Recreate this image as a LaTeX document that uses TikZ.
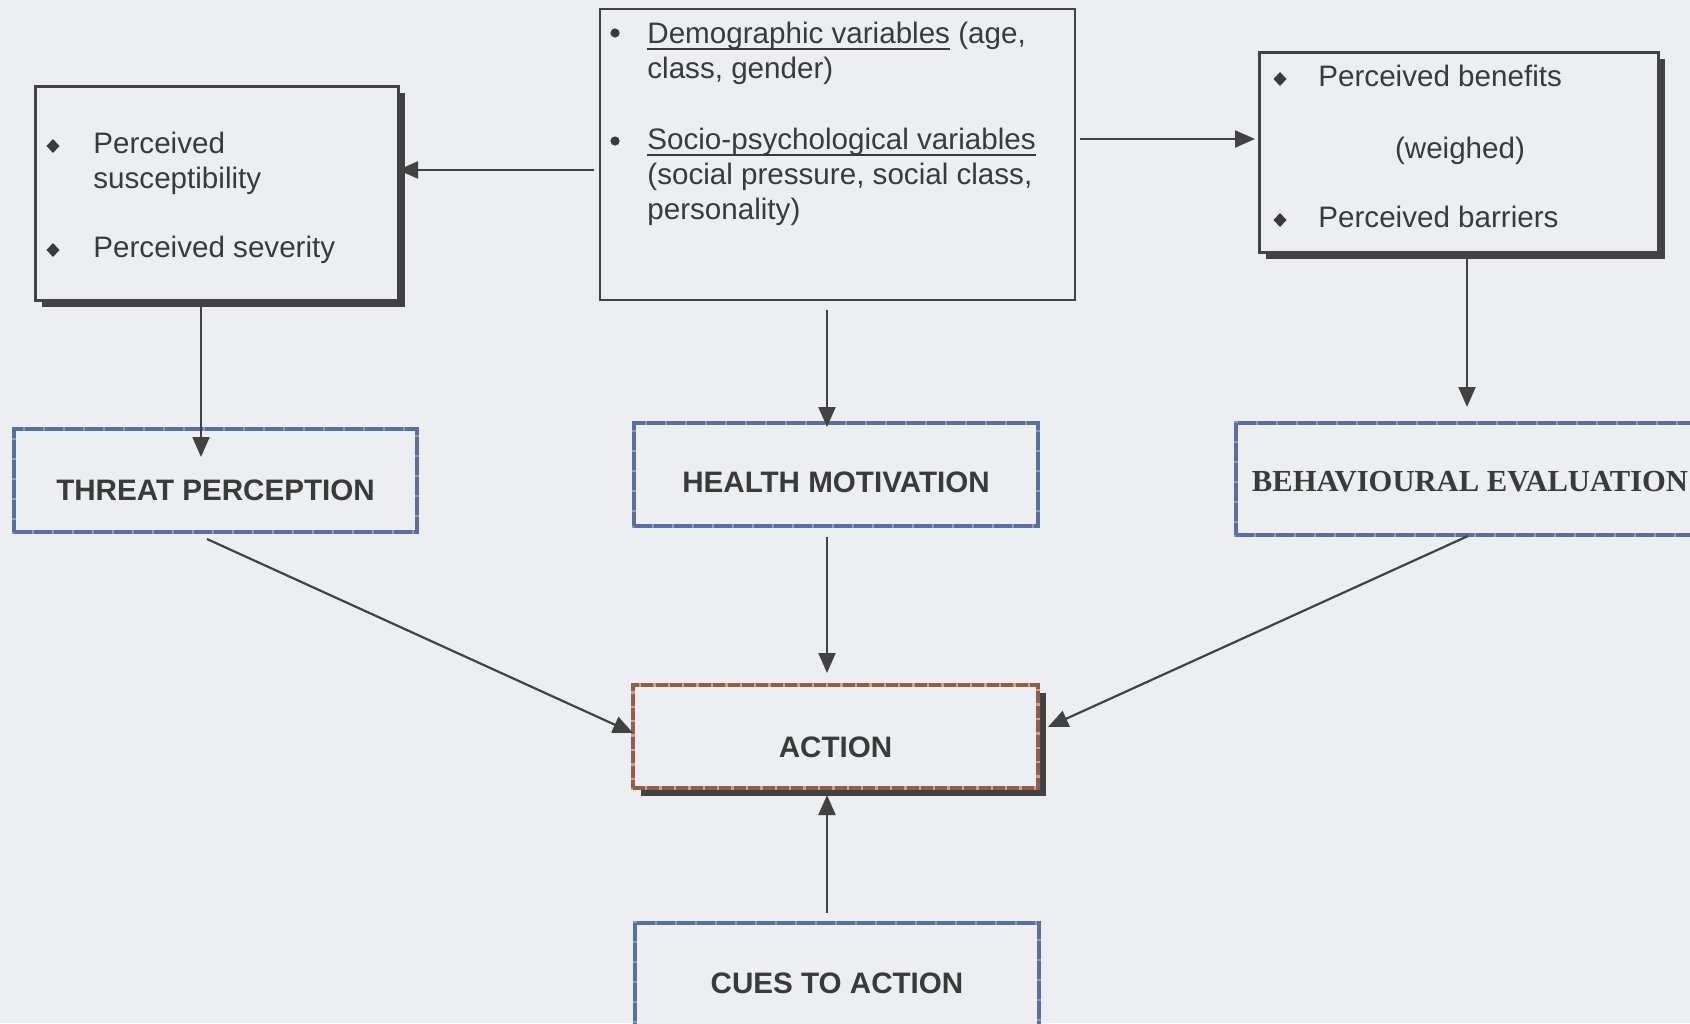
\documentclass[tikz,border=0pt]{standalone}
\usepackage{fontspec}
\setmainfont{Liberation Sans}
\newfontfamily\timesbf{Liberation Serif}
\usetikzlibrary{arrows.meta,shadows}

\newlength{\ulwd}
\newcommand{\uln}[1]{\settowidth{\ulwd}{#1}\rlap{\rule[-3.4pt]{\ulwd}{0.9pt}}#1}

\definecolor{bg}{RGB}{237,238,242}
\definecolor{ink}{RGB}{58,58,58}
\definecolor{frame}{RGB}{66,66,66}
\definecolor{blueframe}{RGB}{92,110,158}
\definecolor{paleblue}{RGB}{140,154,192}
\definecolor{brownframe}{RGB}{146,92,80}
\definecolor{sandframe}{RGB}{200,168,120}

\tikzset{
  basebox/.style={inner sep=0pt, outer sep=0pt, fill=bg},
  factorbox/.style={basebox, draw=frame, line width=1.5pt,
    drop shadow={shadow xshift=3.5pt, shadow yshift=-3.5pt, fill=frame, opacity=1}},
  varbox/.style={basebox, draw=frame, line width=1pt},
  stagebox/.style={basebox, draw=paleblue, line width=1.6pt,
    postaction={draw=blueframe, line width=1.6pt, dash pattern=on 9pt off 1pt}},
  actbox/.style={basebox, draw=sandframe, line width=1.6pt,
    drop shadow={shadow xshift=4pt, shadow yshift=-4pt, fill=frame, opacity=1},
    postaction={draw=brownframe, line width=1.6pt, dash pattern=on 6pt off 1.2pt}},
  caption/.style={font=\fontsize{14.8}{17.5}\selectfont\bfseries, text=ink},
  txtline/.style={anchor=base west, inner sep=0pt, text=ink},
  arr/.style={-{Triangle[length=10pt,width=8.5pt]}, line width=1.1pt, draw=frame}
}

\begin{document}
\begin{tikzpicture}[x=0.5pt, y=-0.5pt, every node/.style={font=\fontsize{14.8}{17.5}\selectfont}]
    % Page and background
    \useasboundingbox (0,0) rectangle (1690,1023);
    \fill[bg] (0,0) rectangle (1690,1023);

    % Top row: modifying variables and perceptions
    \node[factorbox, minimum width=181.5pt, minimum height=107pt] (sev) at (216.5,193) {};
    \node[varbox, minimum width=237.5pt, minimum height=145.5pt] (demo) at (837.5,154.5) {};
    \node[factorbox, minimum width=199.5pt, minimum height=100pt] (ben) at (1458.5,152) {};

    % Middle row
    \node[stagebox, minimum width=201.5pt, minimum height=51.5pt,
          label={[caption, yshift=-5pt]center:THREAT PERCEPTION}] (threat) at (215.5,480.5) {};
    \node[stagebox, minimum width=202pt, minimum height=51.5pt,
          label={[caption, yshift=-4pt]center:HEALTH MOTIVATION}] (health) at (836,474.5) {};
    \node[stagebox, minimum width=237pt, minimum height=56pt,
          label={[caption, font=\fontsize{15.3}{18}\selectfont\timesbf\bfseries, xshift=-1.5pt, yshift=-1.5pt]center:BEHAVIOURAL EVALUATION}] (behav) at (1473,479) {};

    % Bottom row
    \node[actbox, minimum width=202.5pt, minimum height=51.5pt,
          label={[caption, yshift=-5.5pt]center:ACTION}] (action) at (835.5,736.5) {};
    \node[stagebox, minimum width=202pt, minimum height=56pt,
          label={[caption, yshift=-2pt]center:CUES TO ACTION}] (cues) at (837,979) {};

    % Box texts
    \foreach \p in {(53,146),(53,250),(1280,79),(1280,220)}
        \fill[ink] \p +(0,-7) -- +(6.5,0) -- +(0,7) -- +(-6.5,0) -- cycle;
    \foreach \p in {(615,33),(615,141)}
        \fill[ink] \p circle[radius=2.3pt];

    \node[txtline] (sev1) at (93,153) {Perceived};
    \node[txtline] (sev2) at (93,188) {susceptibility};
    \node[txtline] (sev3) at (93,257) {Perceived severity};

    \node[txtline] (demo1) at (647,43) {\uln{Demographic variables} (age,};
    \node[txtline] (demo2) at (647,78) {class, gender)};
    \node[txtline] (demo3) at (647,149) {\uln{Socio-psychological variables}};
    \node[txtline] (demo4) at (647,184) {(social pressure, social class,};
    \node[txtline] (demo5) at (647,219) {personality)};

    \node[txtline] (ben1) at (1318,86) {Perceived benefits};
    \node[anchor=base, inner sep=0pt, text=ink] (ben2) at (1460,158) {(weighed)};
    \node[txtline] (ben3) at (1318,227) {Perceived barriers};

    % Arrows
    \draw[arr] ([shift={(-6,15.5)}]demo.west) -- ([shift={(0,-23)}]sev.east);
    \draw[arr] ([shift={(5,-15.5)}]demo.east) -- ([shift={(-4,-13)}]ben.west);
    \draw[arr] ([shift={(-15.5,7)}]sev.south) -- ([shift={(-14.5,28)}]threat.north);
    \draw[arr] ([shift={(-10.5,10)}]demo.south) -- ([shift={(-9,4)}]health.north);
    \draw[arr] ([shift={(8.5,0)}]ben.south) -- ([shift={(-6,-16)}]behav.north);
    \draw[arr] ([shift={(-8.5,7)}]threat.south) -- ([shift={(0,-3.5)}]action.west);
    \draw[arr] ([shift={(-9,11)}]health.south) -- ([shift={(-8.5,-12)}]action.north);
    \draw[arr] ([shift={(-5,1)}]behav.south) -- ([shift={(10,-9.5)}]action.east);
    \draw[arr] ([shift={(-10,-10)}]cues.north) -- ([shift={(-8.5,7)}]action.south);

\end{tikzpicture}
\end{document}
